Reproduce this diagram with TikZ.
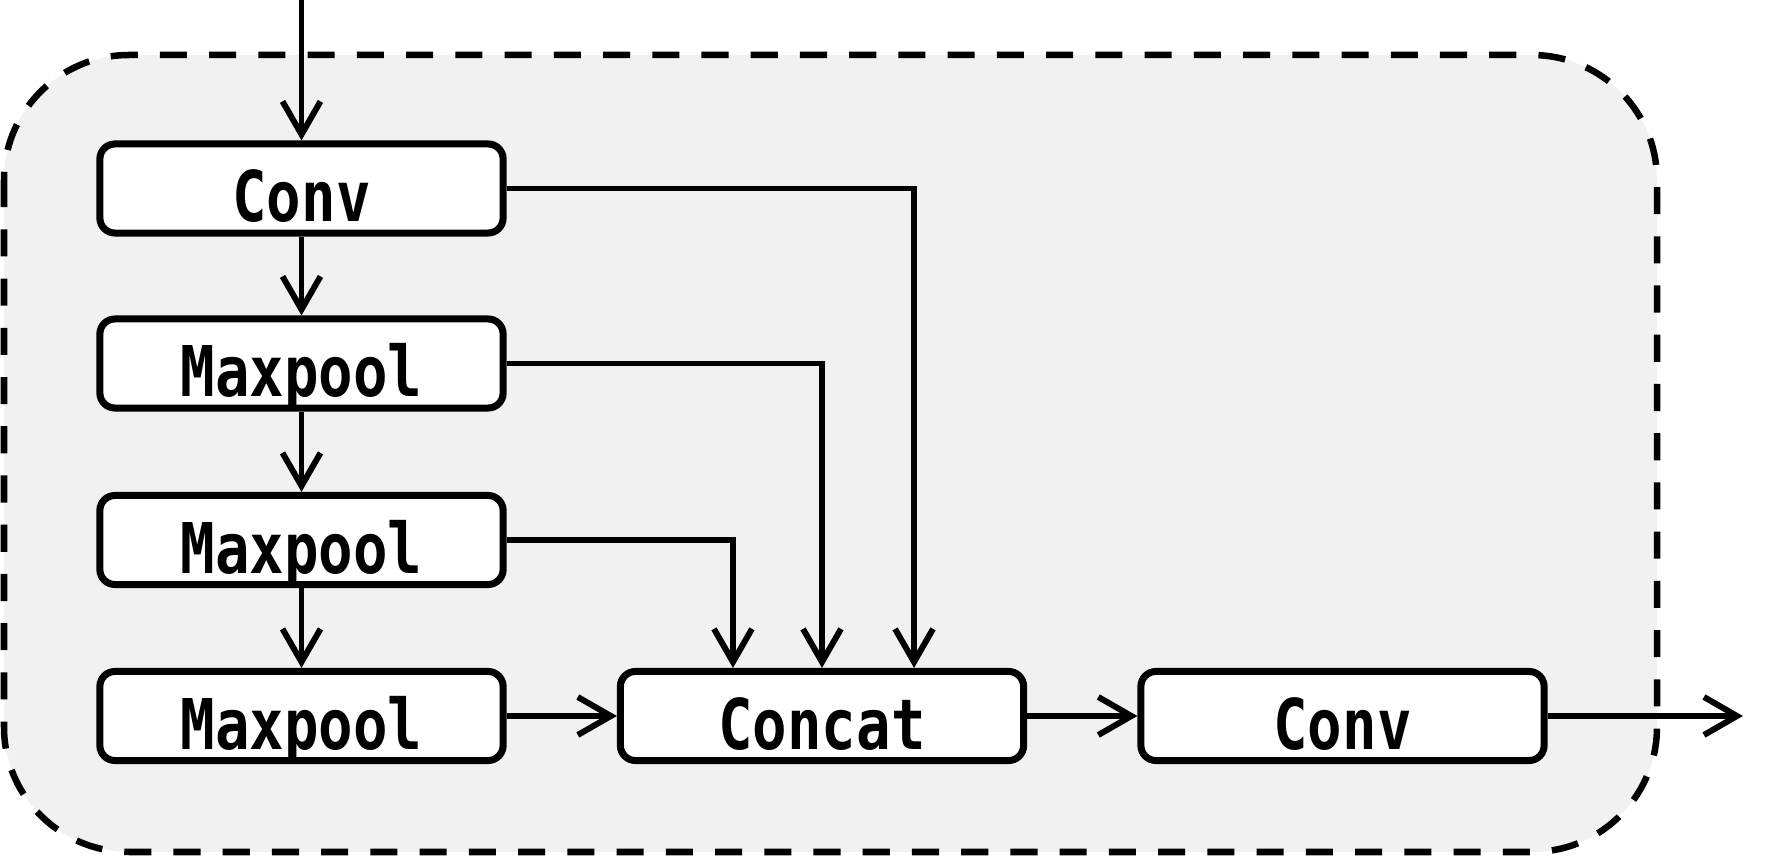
\documentclass[tikz,border=0pt]{standalone}
\usepackage{fontspec}
\newfontfamily\boxfont[FakeStretch=0.82]{DejaVu Sans Mono Bold}
\usetikzlibrary{arrows.meta}
\definecolor{bg}{HTML}{F1F1F1}
\begin{document}
\begin{tikzpicture}[x=0.01cm,y=-0.01cm,
  blk/.style={draw=black, line width=2pt, fill=white, rounded corners=0.15cm,
    minimum width=4.03cm, minimum height=0.89cm, inner sep=0pt,
    text height=0.66cm, text depth=0cm,
    font=\boxfont\fontsize{19.9}{21}\selectfont},
  conn/.style={line width=1.7pt, -{Straight Barb[length=9.4pt,width=10.8pt]}},
  outer/.style={draw=black, fill=bg, line width=1.85pt, dash pattern=on 7.7pt off 6.3pt, rounded corners=1.25cm}
  ]
\useasboundingbox (0,0) rectangle (1781,858);
\draw[outer] (4,55) rectangle (1657,852);
\node[blk] (conv1) at (301.5,188.5) {Conv};
\node[blk] (mp1) at (301.5,363.5) {Maxpool};
\node[blk] (mp2) at (301.5,540) {Maxpool};
\node[blk] (mp3) at (301.5,716) {Maxpool};
\node[blk] (concat) at (822,716) {Concat};
\node[blk] (conv2) at (1342.5,716) {Conv};
\coordinate (in) at (301.5,0);
\coordinate (out) at (1743,716);
\draw[conn] (in) -- (conv1.north);
\draw[conn] (conv1.south) -- (mp1.north);
\draw[conn] (mp1.south) -- (mp2.north);
\draw[conn] (mp2.south) -- (mp3.north);
\draw[conn] (mp3.east) -- (concat.west);
\draw[conn] (concat.east) -- (conv2.west);
\draw[conn] (conv2.east) -- (out);
\draw[conn] (conv1.east) -| ([xshift=0.92cm]concat.north);
\draw[conn] (mp1.east) -| (concat.north);
\draw[conn] (mp2.east) -| ([xshift=-0.89cm]concat.north);
\end{tikzpicture}
\end{document}
